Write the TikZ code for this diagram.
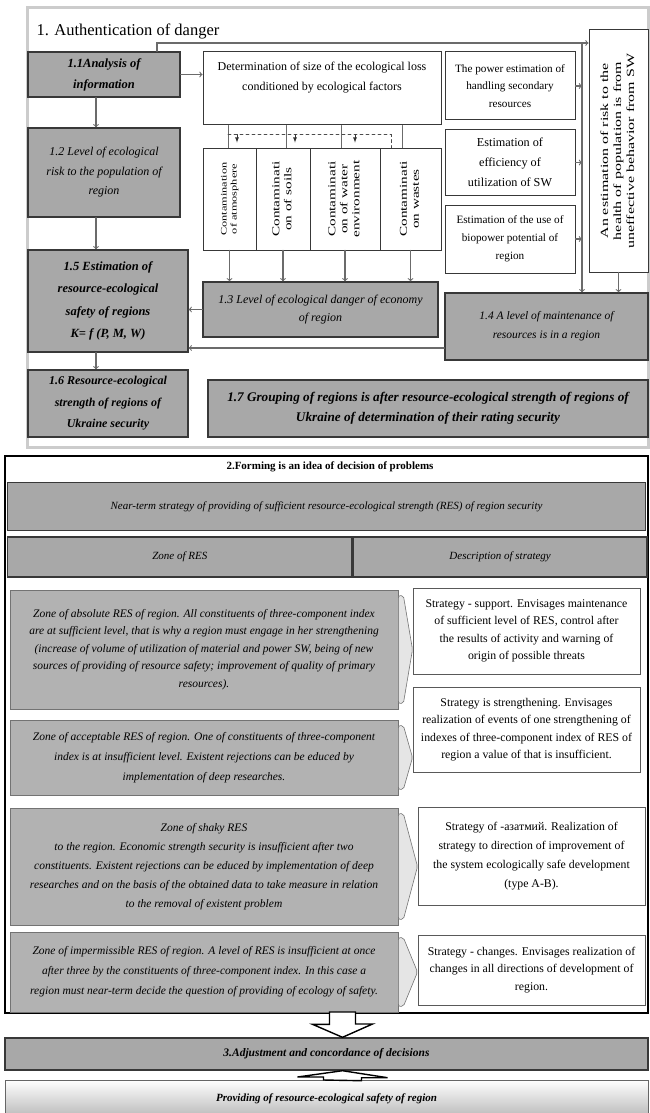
\documentclass[tikz,border=0pt]{standalone}
\usepackage{fontspec}
\setmainfont{Liberation Serif}
\newfontfamily\widefont[FakeStretch=1.45]{Liberation Serif}
\usepackage{graphicx}
\usepackage{xcolor}
\definecolor{boxgray}{gray}{.66}
\definecolor{zonegray}{gray}{.70}
\definecolor{framegray}{gray}{.80}
\definecolor{linegray}{gray}{.42}
\definecolor{edgegray}{gray}{.22}
\newcommand{\fsz}[2]{\fontsize{#1}{#2}\selectfont}
\newcommand{\vtext}[1]{\rotatebox{90}{\begin{tabular}{@{}c@{}}#1\end{tabular}}}
\usetikzlibrary{positioning}

\begin{document}
\begin{tikzpicture}[x=1pt, y=-1pt, >=to, line cap=round,
   grybox/.style={draw=edgegray, line width=1.4pt, fill=boxgray, inner sep=1pt, align=center},
   whtbox/.style={draw=edgegray, line width=1pt, fill=white, inner sep=1pt, align=center},
   zonebox/.style={draw=black!55, line width=.8pt, fill=zonegray, inner sep=1pt, align=center, font=\itshape\fsz{11.5}{17.5}},
   stratbox/.style={draw=black!65, line width=1pt, fill=white, inner sep=1pt, align=center, font=\fsz{11.8}{17.5}},
   conn/.style={->, draw=linegray, line width=1.1pt},
   chev/.style={draw=black!55, line width=.6pt, fill=black!10, rounded corners=2pt},
   blockarr/.style={draw=black, line width=1.4pt, fill=white, line join=miter},
]
   \useasboundingbox (0,0) rectangle (650,1113);

   % 1. authentication of danger
   \node[draw=framegray, line width=3pt, minimum width=621pt, minimum height=439pt, inner sep=0] (sec1) at (337.5,227.5) {};
   \node[anchor=west, font=\fsz{16.5}{18}] (title1) at (33,31) {1. Authentication of danger};

   \node[grybox, minimum width=152pt, minimum height=45pt, font=\bfseries\itshape\fsz{12.5}{21}] (analysis) at (104,74.5) {1.1Analysis of\\information};
   \node[grybox, minimum width=152pt, minimum height=89pt, font=\itshape\fsz{12}{19.5}] (risk) at (104,172.5) {1.2 Level of ecological\\risk to the population of\\region};
   \node[grybox, minimum width=160pt, minimum height=102pt, font=\bfseries\itshape\fsz{12.5}{22.5}] (safety) at (108,301) {1.5 Estimation of\\resource-ecological\\safety of regions\\K= f (P, M, W)};
   \node[grybox, minimum width=160pt, minimum height=67pt, font=\bfseries\itshape\fsz{12}{21.5}] (strength) at (108,403.5) {1.6 Resource-ecological\\strength of regions of\\Ukraine security};

   \node[whtbox, minimum width=238pt, minimum height=73pt,
         label={[anchor=north, yshift=-7pt, align=center, font=\fsz{12}{20}]north:Determination of size of the ecological loss\\conditioned by ecological factors}] (lossdet) at (322,88.5) {};
   \node[whtbox, line width=.8pt, minimum width=53pt, minimum height=102pt, font=\widefont\fsz{8.5}{10}] (atmos) at (229.5,199) {\vtext{Contamination\\of atmosphere}};
   \node[whtbox, line width=.8pt, minimum width=54pt, minimum height=102pt, font=\widefont\fsz{10.5}{12}] (soils) at (283,199) {\vtext{Contaminati\\on of soils}};
   \node[whtbox, line width=.8pt, minimum width=70pt, minimum height=102pt, font=\widefont\fsz{10.5}{12}] (water) at (345,199) {\vtext{Contaminati\\on of water\\environment}};
   \node[whtbox, line width=.8pt, minimum width=61pt, minimum height=102pt, font=\widefont\fsz{10.5}{12}] (wastes) at (410.5,199) {\vtext{Contaminati\\on wastes}};
   \node[grybox, minimum width=235pt, minimum height=55pt, font=\itshape\fsz{12}{18}] (ecodanger) at (320.5,309.5) {1.3 Level of ecological danger of economy\\of region};

   \node[whtbox, minimum width=130pt, minimum height=68pt, font=\fsz{11.2}{17.5}] (power) at (510,86) {The power estimation of\\handling secondary\\resources};
   \node[whtbox, minimum width=130pt, minimum height=65pt, font=\fsz{12.2}{20}] (effic) at (510,162.5) {Estimation of\\efficiency of\\utilization of SW};
   \node[whtbox, minimum width=130pt, minimum height=68pt, font=\fsz{11.2}{18}] (biopow) at (510,239) {Estimation of the use of\\biopower potential of\\region};
   \node[whtbox, minimum width=59pt, minimum height=242pt, font=\widefont\fsz{11}{13}] (healthrisk) at (618.5,151) {\vtext{An estimation of risk to the\\health of population is from\\uneffective behavior from SW}};
   \node[grybox, minimum width=203pt, minimum height=67pt, font=\itshape\fsz{11.5}{19}] (maint) at (546.5,326.5) {1.4 A level of maintenance of\\resources is in a region};

   \node[grybox, minimum width=440pt, minimum height=57pt, font=\bfseries\itshape\fsz{13.2}{20}] (grouping) at (428,408.5) {1.7 Grouping of regions is after resource-ecological strength of regions of\\Ukraine of determination of their rating security};

   \coordinate (riser) at (157,43);
   \coordinate (bus) at (582,43);
   \coordinate (spine) at (96,0);
   \coordinate (lowline) at (0,348);

   \draw[conn] (analysis.east) -- (analysis.east -| lossdet.west);
   \draw[conn] (riser |- analysis.north) -- (riser) -- (riser -| healthrisk.west);
   \draw[conn] (bus) -- (bus |- maint.north);
   \foreach \b in {power,effic,biopow}
      \draw[conn] (\b.east) -- (\b.east -| bus);
   \draw[conn] (healthrisk.south) -- (healthrisk.south |- maint.north);
   \draw[conn] (spine |- analysis.south) -- (spine |- risk.north);
   \draw[conn] (spine |- risk.south) -- (spine |- safety.north);
   \draw[conn] (spine |- safety.south) -- (spine |- strength.north);
   \draw[conn] (ecodanger.west) -- (ecodanger.west -| safety.east);
   \draw[conn] (maint.west |- lowline) -- (safety.east |- lowline);
   \foreach \b/\dx in {atmos/-1.5, soils/3, water/-4, wastes/-8.5}
      \draw[draw=linegray, line width=1pt] ([xshift=\dx pt]\b.north) -- ([xshift=\dx pt]\b.north |- lossdet.south);
   \draw[draw=black!70, line width=.8pt, dashed] ([xshift=-1.5pt, yshift=13pt]atmos.north) -| ([xshift=-19.5pt]wastes.north);
   \foreach \b/\dx in {atmos/7.5, soils/12, water/10}
      \draw[-latex, draw=black!80, line width=.8pt] ([xshift=\dx pt, yshift=13pt]\b.north) -- ([xshift=\dx pt, yshift=5pt]\b.north);
   \foreach \b in {atmos,soils,water,wastes}
      \draw[conn] (\b.south) -- (\b.south |- ecodanger.north);

   % 2. forming an idea of decision
   \node[draw=black, line width=2pt, minimum width=643pt, minimum height=557pt, inner sep=0] (sec2) at (326.5,734.5) {};
   \node[font=\bfseries\fsz{11}{12}] (formtitle) at (330,467) {2.Forming is an idea of decision of problems};
   \node[grybox, minimum width=638pt, minimum height=48pt, font=\itshape\fsz{11}{12}] (nearterm) at (326.5,506.5) {Near-term strategy of providing of sufficient resource-ecological strength (RES) of region security};
   \node[grybox, minimum width=344.5pt, minimum height=40pt, font=\itshape\fsz{11}{12}] (zonehead) at (179.75,557) {Zone of RES};
   \node[grybox, minimum width=293.5pt, minimum height=40pt, font=\itshape\fsz{11}{12}, right=0pt of zonehead] (deschead) {Description of strategy};

   \node[zonebox, minimum width=388pt, minimum height=119pt] (zone1) at (204,649.5) {Zone of absolute RES of region. All constituents of three-component index\\are at sufficient level, that is why a region must engage in her strengthening\\(increase of volume of utilization of material and power SW, being of new\\sources of providing of resource safety; improvement of quality of primary\\resources).};
   \node[zonebox, minimum width=388pt, minimum height=75pt, font=\itshape\fsz{11.5}{20}] (zone2) at (204,757.5) {Zone of acceptable RES of region. One of constituents of three-component\\index is at insufficient level. Existent rejections can be educed by\\implementation of deep researches.};
   \node[zonebox, minimum width=388pt, minimum height=117pt, font=\itshape\fsz{11.5}{19}] (zone3) at (204,866.5) {Zone of shaky RES\\to the region. Economic strength security is insufficient after two\\constituents. Existent rejections can be educed by implementation of deep\\researches and on the basis of the obtained data to take measure in relation\\to the removal of existent problem};
   \node[zonebox, minimum width=388pt, minimum height=80pt, font=\itshape\fsz{11.5}{20}] (zone4) at (204,972) {Zone of impermissible RES of region. A level of RES is insufficient at once\\after three by the constituents of three-component index. In this case a\\region must near-term decide the question of providing of ecology of safety.};

   \node[stratbox, minimum width=227pt, minimum height=86pt] (strat1) at (526.5,631) {Strategy - support. Envisages maintenance\\of sufficient level of RES, control after\\the results of activity and warning of\\origin of possible threats};
   \node[stratbox, minimum width=227pt, minimum height=85pt] (strat2) at (526.5,729.5) {Strategy is strengthening. Envisages\\realization of events of one strengthening of\\indexes of three-component index of RES of\\region a value of that is insufficient.};
   \node[stratbox, minimum width=227pt, minimum height=98pt, font=\fsz{11.8}{19}] (strat3) at (531.5,856) {Strategy of -азатмий. Realization of\\strategy to direction of improvement of\\the system ecologically safe development\\(type A-B).};
   \node[stratbox, minimum width=227pt, minimum height=70pt] (strat4) at (531.5,970) {Strategy - changes. Envisages realization of\\changes in all directions of development of\\region.};

   \foreach \z/\s in {zone1/strat1, zone2/strat2, zone3/strat3, zone4/strat4}
      \draw[chev] ([yshift=-6pt]\z.north east) -- ++(5,0) -- (\z.east -| \s.west) -- ([xshift=5pt, yshift=6pt]\z.south east) -- ([yshift=6pt]\z.south east) -- cycle;

   % 3. adjustment
   \node[grybox, minimum width=643pt, minimum height=32pt, font=\bfseries\itshape\fsz{11.5}{13}] (adjust) at (326.5,1054) {3.Adjustment and concordance of decisions};
   \node[draw=black!60, line width=1pt, top color=white, bottom color=black!28, minimum width=643pt, minimum height=38pt, font=\bfseries\itshape\fsz{11}{12}, inner sep=1pt] (providing) at (326.5,1099) {Providing of resource-ecological safety of region};

   \coordinate (downarr) at (342.5,1012);
   \coordinate (uparr) at (342.5,1080);
   \draw[blockarr] (downarr) ++(-13,0) -- ++(26,0) -- ++(0,12) -- ++(17,0) -- (downarr |- adjust.north) -- ++(-30,-13) -- ++(17,0) -- cycle;
   \draw[blockarr] (uparr) ++(-19,0) -- ++(0,-3) -- ++(-26,0) -- (uparr |- adjust.south) -- ++(45,7) -- ++(-26,0) -- ++(0,3) -- cycle;
\end{tikzpicture}
\end{document}
